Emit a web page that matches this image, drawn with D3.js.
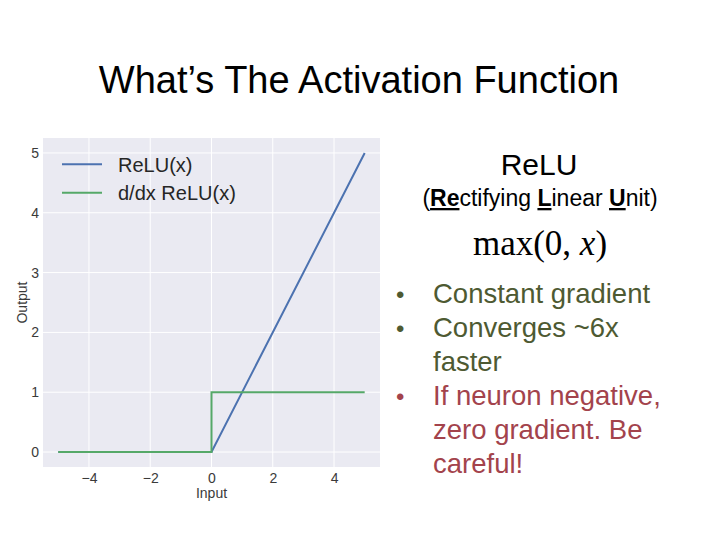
<!DOCTYPE html>
<html>
<head>
<meta charset="utf-8">
<script src="https://cdn.jsdelivr.net/npm/d3@7"></script>
<style>
  html, body { margin: 0; padding: 0; background: #ffffff; }
  svg { display: block; font-family: "Liberation Sans", Arial, sans-serif; }
</style>
</head>
<body>
<svg id="chart" width="720" height="540"></svg>
<script>
// ---- data ----
const reluX = [-5, 0, 5];
const reluY = [0, 0, 5];
const gradX = [-5, 0, 0, 5];
const gradY = [0, 0, 1, 1];
const xTicks = [-4, -2, 0, 2, 4];
const yTicks = [0, 1, 2, 3, 4, 5];
const seriesNames = ["ReLU(x)", "d/dx ReLU(x)"];
const bullets = [
  { lines: ["Constant gradient"], color: "#4e5a32" },
  { lines: ["Converges ~6x", "faster"], color: "#4e5a32" },
  { lines: ["If neuron negative,", "zero gradient. Be", "careful!"], color: "#a3434c" }
];

const svg = d3.select("#chart");

// title
svg.append("text").attr("x", 359).attr("y", 93)
  .attr("text-anchor", "middle").attr("font-size", 38).attr("fill", "#000")
  .text("What\u2019s The Activation Function");

// plot area
const L = 43, R = 380, T = 138, B = 467;
const x = d3.scaleLinear().domain([-5.5, 5.5]).range([L, R]);
const y = d3.scaleLinear().domain([-0.25, 5.25]).range([B, T]);

svg.append("rect").attr("x", L).attr("y", T).attr("width", R - L).attr("height", B - T)
  .attr("fill", "#eaeaf2");

// grid
svg.append("g").selectAll("line").data(xTicks).join("line")
  .attr("x1", d => x(d)).attr("x2", d => x(d)).attr("y1", T).attr("y2", B)
  .attr("stroke", "#fff").attr("stroke-width", 1);
svg.append("g").selectAll("line").data(yTicks).join("line")
  .attr("y1", d => y(d)).attr("y2", d => y(d)).attr("x1", L).attr("x2", R)
  .attr("stroke", "#fff").attr("stroke-width", 1);

// axes (labels only, seaborn style)
const fmt = d => d < 0 ? "\u2212" + Math.abs(d) : String(d);
const xAxis = svg.append("g").attr("transform", `translate(0,${B})`)
  .call(d3.axisBottom(x).tickValues(xTicks).tickFormat(fmt).tickSize(0).tickPadding(6));
const yAxis = svg.append("g").attr("transform", `translate(${L},0)`)
  .call(d3.axisLeft(y).tickValues(yTicks).tickFormat(fmt).tickSize(0).tickPadding(4));
[xAxis, yAxis].forEach(a => {
  a.select(".domain").remove();
  a.attr("font-family", null).attr("font-size", null);
  a.selectAll("text").attr("font-size", 14).attr("fill", "#3a3a3a");
});

svg.append("text").attr("x", x(0)).attr("y", 498).attr("text-anchor", "middle")
  .attr("font-size", 14).attr("fill", "#3a3a3a").text("Input");
svg.append("text").attr("transform", `translate(27,${(T + B) / 2}) rotate(-90)`)
  .attr("text-anchor", "middle").attr("font-size", 14).attr("fill", "#3a3a3a").text("Output");

// lines
const colors = ["#4c72b0", "#55a868"];
const line = d3.line().x(d => x(d[0])).y(d => y(d[1]));
svg.append("path").datum(d3.zip(reluX, reluY)).attr("d", line)
  .attr("fill", "none").attr("stroke", colors[0]).attr("stroke-width", 2);
svg.append("path").datum(d3.zip(gradX, gradY)).attr("d", line)
  .attr("fill", "none").attr("stroke", colors[1]).attr("stroke-width", 2);

// legend
seriesNames.forEach((n, i) => {
  const ly = 164.3 + i * 28.4;
  svg.append("line").attr("x1", 62).attr("x2", 102).attr("y1", ly).attr("y2", ly)
    .attr("stroke", colors[i]).attr("stroke-width", 2);
  svg.append("text").attr("x", 118).attr("y", ly + 7.5).attr("font-size", 20)
    .attr("fill", "#262626").text(n);
});

// right side text
svg.append("text").attr("x", 539).attr("y", 175).attr("text-anchor", "middle")
  .attr("font-size", 30).attr("fill", "#000").text("ReLU");

const sub = svg.append("text").attr("x", 540).attr("y", 206).attr("text-anchor", "middle")
  .attr("font-size", 23).attr("fill", "#000");
const subParts = [["(", false], ["Re", true], ["ctifying ", false], ["L", true], ["inear ", false], ["U", true], ["nit)", false]];
subParts.forEach(([t, b]) => {
  const ts = sub.append("tspan").text(t);
  if (b) ts.attr("font-weight", "bold").style("text-decoration", "underline");
});

const mx = svg.append("text").attr("x", 540).attr("y", 255).attr("text-anchor", "middle")
  .attr("font-size", 35).attr("fill", "#000")
  .style("font-family", "'Liberation Serif', 'DejaVu Serif', serif");
mx.append("tspan").text("max(0, ");
mx.append("tspan").attr("font-style", "italic").text("x");
mx.append("tspan").text(")");

let baseY = 303;
const lineH = 34;
bullets.forEach(b => {
  svg.append("text").attr("x", 396).attr("y", baseY).attr("font-size", 24)
    .attr("fill", b.color).text("\u2022");
  b.lines.forEach((t, j) => {
    svg.append("text").attr("x", 433).attr("y", baseY + j * lineH).attr("font-size", 27.5)
      .attr("fill", b.color).text(t);
  });
  baseY += b.lines.length * lineH;
});
</script>
</body>
</html>
